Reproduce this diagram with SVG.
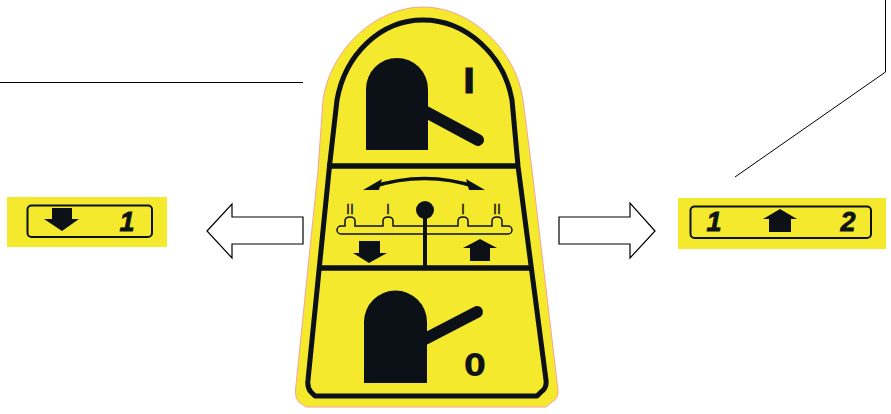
<svg xmlns="http://www.w3.org/2000/svg" width="891" height="414" viewBox="0 0 891 414">
<style>
.y{fill:#f5e92d}
.k{fill:#0c1118}
.o{fill:none;stroke:#0c1118;stroke-linejoin:round}
.w{fill:#fff;stroke:#000;stroke-width:1.2}
.c{fill:none;stroke:#000;stroke-width:1}
.n{font-family:"Liberation Sans",Arial,sans-serif;font-weight:bold;font-style:italic;font-size:27px;fill:#0c1118;stroke:#0c1118;stroke-width:.8;text-anchor:middle;opacity:.99}
.m{font-family:"Liberation Sans",Arial,sans-serif;font-size:14px;fill:#0c1118;stroke:#0c1118;stroke-width:.3;text-anchor:middle;opacity:.99}
.b{font-family:"DejaVu Sans",sans-serif;font-weight:bold;fill:#0c1118;text-anchor:middle;opacity:.99}
</style>
<rect width="891" height="414" fill="#fff"/>
<g id="connectors">
<path class="c" d="M0 82.500H303"/>
<path class="c" d="M885.500 0V72L735 177"/>
<path id="arrow-left" class="w" d="M207 231L232 204V217H303V244H232V258Z"/>
<path id="arrow-right" class="w" d="M655 231L630 203V217H559V244H630V258Z"/>
</g>
<g id="main-plate">
<path class="y" stroke="#f4a3a0" stroke-width="1" d="M295.500 390L318 170L323 100C330 50 375 7 423 7C471 7 516 50 523 100L532 170L558 390Q559 398 552 402L546 407H306L299 402Q295 398 295.500 390Z"/>
<path class="o" stroke-width="5" d="M329.500 166L337 100C345 55 380 20 423 20C466 20 504 55 512 100L518 166L546 380Q547 388 541 392L537 396H315L311 392Q307 388 308 380Z"/>
<path class="o" stroke-width="5.500" d="M327 166H520M318 268H532"/>
</g>
<g id="handle-on">
<path class="k" d="M366 150V89A31 31 0 0 1 428 89V150Z"/>
<path d="M426 112L478 140" stroke="#0c1118" stroke-width="12" stroke-linecap="round"/>
<text class="b" x="469" y="93" font-size="34" stroke="#0c1118" stroke-width=".8">I</text>
</g>
<g id="selector">
<path d="M372 187Q425 170 476 187" fill="none" stroke="#0c1118" stroke-width="3.500"/>
<path class="k" d="M363 190L382 179L379 190Z"/>
<path class="k" d="M485 190L466 179L469 190Z"/>
<path d="M341 226H345V221Q345 217 350 217Q355 217 355 221V226H383V221Q383 217 388 217Q393 217 393 221V226H458V221Q458 217 463 217Q468 217 468 221V226H492V221Q492 217 497 217Q502 217 502 221V226H508A4 4 0 0 1 508 234H341A4 4 0 0 1 341 226Z" fill="none" stroke="#0c1118" stroke-width="1.500"/>
<circle class="k" cx="425" cy="210" r="9"/>
<path d="M425 210V268" stroke="#0c1118" stroke-width="4"/>
<text class="m" x="350" y="214">II</text>
<text class="m" x="388" y="214">I</text>
<text class="m" x="463" y="214">I</text>
<text class="m" x="497" y="214">II</text>
<path class="k" d="M359 241H380V253H387L369 263L353 253H359Z"/>
<path class="k" d="M480 239L497 248H490V261H470V248H463Z"/>
</g>
<g id="handle-off">
<path class="k" d="M364 383V322A31.500 31.500 0 0 1 427 322V383Z"/>
<path d="M425 339L477 312" stroke="#0c1118" stroke-width="12" stroke-linecap="round"/>
<text class="b" x="475" y="376" font-size="32">0</text>
</g>
<g id="plate-left">
<rect class="y" x="7" y="197" width="160" height="50"/>
<rect class="o" x="27.500" y="205.500" width="124.500" height="31.500" rx="4" stroke-width="2"/>
<path class="k" d="M52 208H72V219H79L62 231L44 219H52Z"/>
<text class="n" x="127" y="231">1</text>
</g>
<g id="plate-right">
<rect class="y" x="678" y="198" width="208" height="51"/>
<rect class="o" x="690.500" y="206.500" width="180.500" height="31.500" rx="4" stroke-width="2"/>
<text class="n" x="714" y="231">1</text>
<path class="k" d="M780 209L797 219H791V232H769V219H763Z"/>
<text class="n" x="848" y="231">2</text>
</g>
</svg>
